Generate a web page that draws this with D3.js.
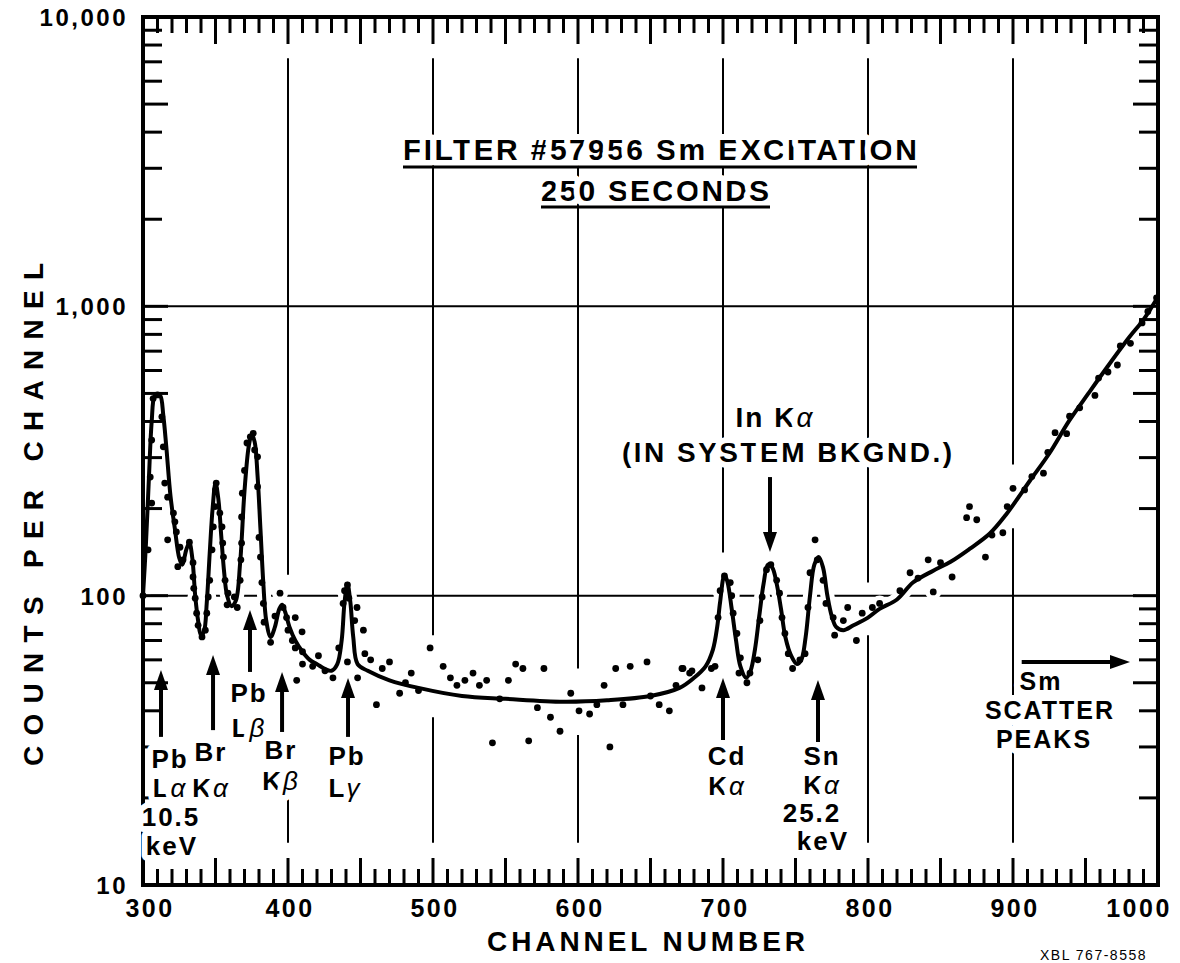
<!DOCTYPE html>
<meta charset="utf-8">
<body style="margin:0;background:#fff">
<script src="https://cdn.jsdelivr.net/npm/d3@7"></script>
<style>
text { font-family: "Liberation Sans", Arial, sans-serif; font-weight: bold; fill: #000; }
.halo { stroke: #fff; stroke-width: 12px; paint-order: stroke; stroke-linejoin: round; }
.gr { font-style: italic; font-weight: normal; }
</style>
<svg id="chart" width="1180" height="963"></svg>
<script>
// ---- data ----
var channelTicks = [300, 400, 500, 600, 700, 800, 900, 1000];
var countTicks = [10, 100, 1000, 10000];
var countLabels = ["10", "100", "1,000", "10,000"];

// fitted curve (channel, counts)
var curveChannel = [300,302,304,306,308,310,312,314,316,319,322,325,327,330,332,334,336,338,340,342,344,346,348,350,352,354,356,358,361,364,367,370,373,375,377,379,381,383,385,388,391,394,396,398,401,405,410,415,420,425,430,434,437,439,441,443,445,448,455,470,490,520,550,590,620,650,670,680,688,693,696,698,701,703,706,709,712,716,719,722,725,728,731,734,737,740,743,747,751,754,757,760,763,766,769,772,775,778,783,790,800,808,820,831,845,857,870,884,895,912,925,939,952,965,980,990,1000];
var curveCounts = [100,150,250,400,490,495,490,420,330,220,170,135,128,145,152,135,100,82,73,75,95,140,200,245,215,160,120,100,92,96,130,230,330,360,340,260,170,110,82,72,78,90,93,88,78,70,64,60,58,56,55,58,70,95,110,95,72,58,55,51,48,45,44,43,43.5,45,48,52,57,65,78,95,118,112,90,70,57,52,55,65,85,110,128,125,110,90,72,62,58,60,72,100,128,136,125,100,85,78,76,79,84,90,97,111,122,131,145,164,190,251,310,404,500,617,780,900,1080];

// measured points (channel, counts)
var dotChannel = [300,303.5,305,306,306,307,310,313,314,315,317,317,321,322,323,325.5,324,327.6,332,334.5,334.5,335,336,337,338,340.7,343,344,345,346,347.6,348.5,349.7,350,350.5,353,354.5,355,355.5,356.6,358.6,358,365,363,367,367.5,368,368,368.5,370,371.7,374,376,377,379,379,380,381,382,383,383.5,388,394.5,391,396.6,399,405,409.7,400,403,
  405,410,421,410,417,425.5,431,406,452,453,441,448,461,470,438,439,441,442,447.6,446,435,
  457,465,477,481,485,490,
  498,507,512,516.5,522,527.6,532,537,546,552,557,562,572,576.5,581,587.6,595,600.7,608,613,618,622,626,631,636,647.6,650,656,663,667.6,671.7,677,685.5,692,541,566,
  672.4,678.6,694.5,696.6,698,701,705,706,707,709.6,712,711,716.5,718.6,724,725.5,727,730,733,737,739,740.7,742.7,745,748,753,756.6,758.6,760,763.5,765,769,771,776,777,783,786,792,796,803,808,822,829,834.5,841.5,845,850,858,868,870,875,
  881,885.5,893,896,900,908,913,921,924,929,937,939,946,956.5,959,965.5,972,974,981,989,993,999];
var dotCounts = [100,144,257,209,345,480,494,415,327,245,219,156,193,180,166,147,126,133,153,130,116,106,98,87,79,72,76,87,99,113,144,173,203,232,245,193,173,152,136,113,102,93,91,99,113,133,152,187,226,271,337,354,364,319,302,238,159,136,111,94,81,69,102,85,91,84,84,75,76,70,
  66,64,62,58,57,55,52,51,76,63,59,52,42,59,94,104,109,98,91,82,66,
  60,56,46,50,54,47,
  66,57,52,49,51,54,49,51,44,51,58,56,41,56,38,34,46,40,39,42,49,30,56,42,57,59,45,42,40,49,56,54,48,56,31,31.5,
  56,55,57,84,104,117,111,100,87,74,61,54,50,54,60,82,99,123,128,113,102,84,74,63,56,60,63,91,120,156,133,113,94,84,73,82,91,70,87,91,94,104,120,115,133,103,130,116,186,203,183,
  136,162,165,203,235,232,258,265,313,366,363,417,446,492,565,593,627,730,745,876,960,1070];

// gridline gaps (counts) on the vertical lines, and the line ends
var gridChannels = [400, 500, 600, 700, 800, 900];
var gridGaps = [[20, 118], [38, 73], [33, 56], [14, 141], [73, 111], [171, 284]];
var gridTop = 7200, gridBottom = 14;

// peak arrows: channel, arrow tip / tail in counts
var peakNames = ["Pb La", "Br Ka", "Pb Lb", "Br Kb", "Pb Lg", "Cd Ka", "Sn Ka"];
var peakChannel = [312.4, 348.3, 373.8, 395.9, 441.4, 700, 765.5];
var peakTip = [55.4, 62.4, 89.2, 54.5, 51.9, 51.9, 51.1];
var peakTail = [32.5, 34.3, 54.5, 33.8, 32.5, 31.7, 31.2];

// ---- drawing ----
var svg = d3.select("#chart");
var x = d3.scaleLinear().domain([300, 1000]).range([143, 1158]);
var y = d3.scaleLog().domain([10, 10000]).range([885, 17]);

var curve = curveChannel.map(function (c, i) { return [c, curveCounts[i]]; });
var dots = dotChannel.map(function (c, i) { return [c, dotCounts[i]]; });
var line = d3.line().x(function (d) { return x(d[0]); }).y(function (d) { return y(d[1]); })
  .curve(d3.curveCatmullRom.alpha(0.5));

// gridlines
var grid = svg.append("g").attr("stroke", "#000").attr("stroke-width", 2);
gridChannels.forEach(function (c, i) {
  var g = gridGaps[i];
  grid.append("line").attr("x1", x(c)).attr("x2", x(c)).attr("y1", y(gridTop)).attr("y2", y(g[1]));
  if (c != 700)
    grid.append("line").attr("x1", x(c)).attr("x2", x(c)).attr("y1", y(g[0])).attr("y2", y(gridBottom));
});
[100, 1000].forEach(function (v) {
  grid.append("line").attr("x1", x(300)).attr("x2", x(985)).attr("y1", y(v)).attr("y2", y(v));
});

// white halo round the data so gridlines break there
svg.append("path").datum(curve).attr("d", line).attr("fill", "none")
  .attr("stroke", "#fff").attr("stroke-width", 14);
svg.append("g").selectAll("circle").data(dots).join("circle")
  .attr("cx", function (d) { return x(d[0]); }).attr("cy", function (d) { return y(d[1]); })
  .attr("r", 8).attr("fill", "#fff");

// frame
svg.append("rect").attr("x", x(300)).attr("y", y(10000))
  .attr("width", x(1000) - x(300)).attr("height", y(10) - y(10000))
  .attr("fill", "none").attr("stroke", "#000").attr("stroke-width", 4);

// channel ticks, top and bottom, pointing in
var tk = svg.append("g").attr("stroke", "#000").attr("stroke-width", 3);
d3.range(310, 1000, 10).forEach(function (c) {
  var len = (c % 50 == 0) ? 27 : 16;
  tk.append("line").attr("x1", x(c)).attr("x2", x(c)).attr("y1", y(10000)).attr("y2", y(10000) + len);
  tk.append("line").attr("x1", x(c)).attr("x2", x(c)).attr("y1", y(10)).attr("y2", y(10) - len);
});
// count ticks, left and right
[10, 100, 1000].forEach(function (d) {
  d3.range(1, 10).forEach(function (m) {
    var v = d * m;
    if (v == 10) return;
    var len = (m == 1 || m == 5) ? 25 : 19;
    tk.append("line").attr("x1", x(300)).attr("x2", x(300) + len).attr("y1", y(v)).attr("y2", y(v));
    tk.append("line").attr("x1", x(1000)).attr("x2", x(1000) - len).attr("y1", y(v)).attr("y2", y(v));
  });
});

// tick labels
svg.append("g").selectAll("text").data(channelTicks).join("text")
  .attr("x", function (d) { return d == 1000 ? x(d) - 19 : d == 300 ? x(d) + 7 : x(d) + 2; })
  .attr("y", 917).attr("text-anchor", "middle")
  .attr("font-size", 25).attr("letter-spacing", 2.5)
  .text(function (d) { return d; });
svg.append("g").selectAll("text").data(countTicks).join("text")
  .attr("x", 128).attr("y", function (d) { return y(d) + 9; })
  .attr("text-anchor", "end").attr("font-size", 24).attr("letter-spacing", 2.5)
  .text(function (d, i) { return countLabels[i]; });

// axis titles
svg.append("text").attr("x", 487).attr("y", 951).attr("font-size", 28)
  .attr("textLength", 318).text("CHANNEL NUMBER");
svg.append("text").attr("transform", "translate(43,766) rotate(-90)").attr("font-size", 28)
  .attr("textLength", 503).text("COUNTS PER CHANNEL");

// fitted curve and points
svg.append("path").datum(curve).attr("d", line).attr("fill", "none")
  .attr("stroke", "#000").attr("stroke-width", 4).attr("stroke-linejoin", "round");
svg.append("g").selectAll("circle").data(dots).join("circle")
  .attr("cx", function (d) { return x(d[0]); }).attr("cy", function (d) { return y(d[1]); })
  .attr("r", 3.4).attr("fill", "#000");

// stacked label: rows of [text, greek, cx, baseline]
function label(rows, size) {
  var t = svg.append("text").attr("class", "halo").attr("text-anchor", "middle")
    .attr("font-size", size || 26).attr("letter-spacing", 2);
  rows.forEach(function (r) {
    t.append("tspan").attr("x", r[2]).attr("y", r[3]).text(r[0]);
    if (r[1]) t.append("tspan").attr("class", "gr").text(r[1]);
  });
  return t;
}

// title
svg.append("text").attr("class", "halo").attr("x", 403).attr("y", 160).attr("font-size", 30)
  .attr("textLength", 514).text("FILTER  #57956  Sm EXCITATION");
svg.append("text").attr("class", "halo").attr("x", 541).attr("y", 201).attr("font-size", 30)
  .attr("textLength", 228).text("250  SECONDS");
svg.append("line").attr("x1", 403).attr("x2", 917).attr("y1", 167).attr("y2", 167)
  .attr("stroke", "#000").attr("stroke-width", 3);
svg.append("line").attr("x1", 541).attr("x2", 770).attr("y1", 207).attr("y2", 207)
  .attr("stroke", "#000").attr("stroke-width", 3);

// peak labels
label([["Pb", null, 170, 768], ["L", "α", 170, 797], ["10.5", null, 171, 826], ["keV", null, 172, 855]]);
label([["Br", null, 211, 761], ["K", "α", 211, 797]]);
label([["Pb", null, 249, 702], ["L", "β", 249, 737]]);
label([["Br", null, 281, 759], ["K", "β", 281, 790]]);
label([["Pb", null, 347, 765], ["L", "γ", 345, 797]]);
label([["Cd", null, 727, 765], ["K", "α", 727, 795]]);
label([["Sn", null, 822, 765], ["K", "α", 822, 794], ["25.2", null, 812, 822], ["keV", null, 823, 850]]);
label([["Sm", null, 1041, 690], ["SCATTER", null, 1050, 719], ["PEAKS", null, 1044, 748]], 25);
label([["In  K", "α", 775, 427]], 28);
svg.append("text").attr("class", "halo").attr("x", 622).attr("y", 462).attr("font-size", 28)
  .attr("textLength", 330).text("(IN  SYSTEM  BKGND.)");

// arrows
function arrow(x1, y1, x2, y2) {
  var a = Math.atan2(y2 - y1, x2 - x1), h = 20, w = 7;
  svg.append("line").attr("x1", x1).attr("y1", y1)
    .attr("x2", x2 - Math.cos(a) * h * 0.8).attr("y2", y2 - Math.sin(a) * h * 0.8)
    .attr("stroke", "#000").attr("stroke-width", 4);
  var bx = x2 - Math.cos(a) * h, by = y2 - Math.sin(a) * h;
  svg.append("path").attr("fill", "#000").attr("d",
    "M" + x2 + "," + y2 + "L" + (bx - Math.sin(a) * w) + "," + (by + Math.cos(a) * w) +
    "L" + (bx + Math.sin(a) * w) + "," + (by - Math.cos(a) * w) + "Z");
}
peakChannel.forEach(function (c, i) { arrow(x(c), y(peakTail[i]), x(c), y(peakTip[i])); });
arrow(x(732.4), y(257), x(732.4), y(141.6));
arrow(x(906), y(59), x(980.7), y(59));

// plate number at the bottom edge
svg.append("text").attr("x", 1040).attr("y", 960).attr("font-size", 14)
  .style("font-weight", "normal").attr("letter-spacing", 1.5).text("XBL 767-8558");
</script>
</body>
